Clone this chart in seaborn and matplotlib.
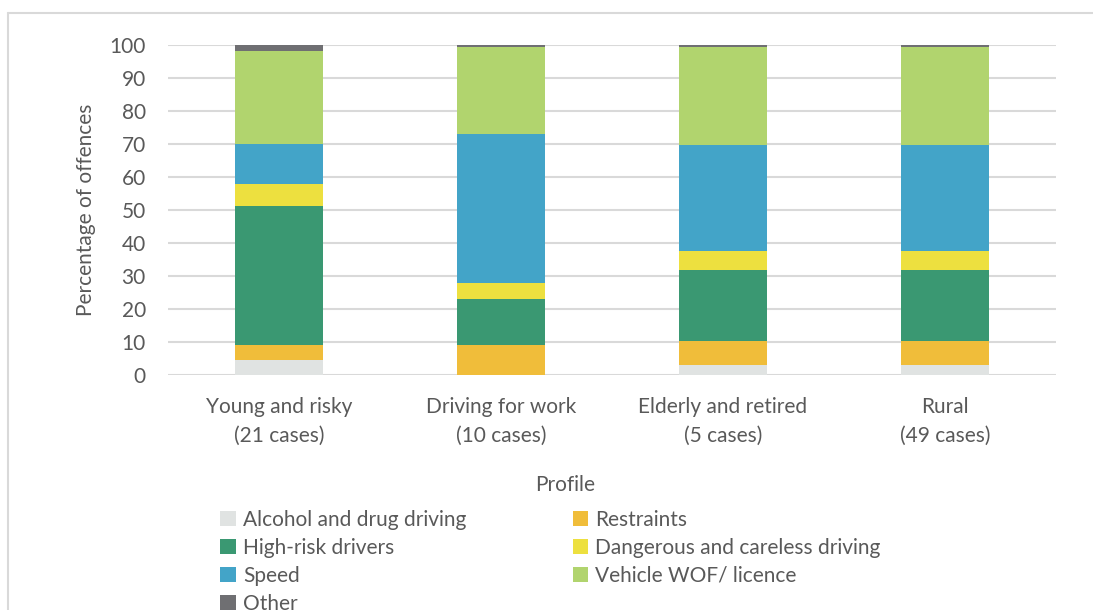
import matplotlib
matplotlib.use("Agg")
import matplotlib.pyplot as plt
import seaborn as sns
import pandas as pd
import numpy as np

# Offence shares (%) by driver profile
profiles = ["Young and risky\n(21 cases)", "Driving for work\n(10 cases)",
            "Elderly and retired\n(5 cases)", "Rural\n(49 cases)"]
categories = ["Alcohol and drug driving", "Restraints", "High-risk drivers",
              "Dangerous and careless driving", "Speed", "Vehicle WOF/ licence", "Other"]
alcohol = [4.6, 0.0, 3.0, 3.0]
restraints = [4.6, 9.2, 7.4, 7.4]
high_risk = [42.0, 13.7, 21.5, 21.5]
dangerous = [6.7, 5.0, 5.8, 5.8]
speed = [12.0, 45.2, 31.9, 31.9]
vehicle = [28.3, 26.4, 29.9, 29.9]
other = [1.8, 0.5, 0.5, 0.5]
colors = ["#e0e3e2", "#f0bd3a", "#3a9872", "#ede03f", "#43a4c8", "#b1d46e", "#6f6f72"]

series = [alcohol, restraints, high_risk, dangerous, speed, vehicle, other]

sns.set_theme(style="white")
plt.rcParams["font.family"] = ["Lato", "DejaVu Sans"]
text_col = "#595959"
fs = 15

fig = plt.figure(figsize=(10.93, 6.10), dpi=100)
ax = fig.add_axes([168 / 1093, 1 - 375 / 610, (1056 - 168) / 1093, 330 / 610])

bottom = np.zeros(len(profiles))
for name, vals, col in zip(categories, series, colors):
    df = pd.DataFrame({"profile": profiles, "value": vals})
    sns.barplot(data=df, x="profile", y="value", color=col, width=0.4,
                bottom=bottom, ax=ax, linewidth=0, saturation=1, label=name)
    bottom = bottom + np.array(vals)

h, l = ax.get_legend_handles_labels()
if ax.get_legend() is not None:
    ax.get_legend().remove()

ax.set_ylim(0, 100)
ax.set_xlim(-0.5, 3.5)
ax.set_yticks(range(0, 101, 10))
ax.yaxis.grid(True, color="#d9d9d9", linewidth=1.5)
ax.set_axisbelow(True)
for s in ax.spines.values():
    s.set_visible(False)
ax.tick_params(axis="both", length=0, labelsize=fs, colors=text_col)
ax.tick_params(axis="y", pad=16)
ax.tick_params(axis="x", pad=16)
for lbl in ax.get_xticklabels():
    lbl.set_linespacing(1.55)
ax.set_xlabel("")
ax.set_ylabel("Percentage of offences", fontsize=fs, color=text_col, labelpad=10)
fig.text(565 / 1093, 1 - 485 / 610, "Profile", ha="center", va="center",
         fontsize=fs, color=text_col)

# Legend: two columns filled row by row
order = [0, 2, 4, 6, 1, 3, 5]
leg = fig.legend([h[i] for i in order], [l[i] for i in order], ncol=2,
                 loc="upper left", bbox_to_anchor=(220 / 1093, 1 - 510 / 610),
                 frameon=False, fontsize=fs, handlelength=0.75, handleheight=0.75,
                 handletextpad=0.35, columnspacing=5.1, labelspacing=0.38,
                 borderaxespad=0, borderpad=0)
for t in leg.get_texts():
    t.set_color(text_col)

# Chart frame
fig.add_artist(plt.Line2D([8 / 1093, 8 / 1093], [0, 1 - 13 / 610], color="#d9d9d9",
                          linewidth=1.5, transform=fig.transFigure))
fig.add_artist(plt.Line2D([8 / 1093, 1], [1 - 13 / 610, 1 - 13 / 610], color="#d9d9d9",
                          linewidth=1.5, transform=fig.transFigure))

fig.savefig("out.png", dpi=100)
